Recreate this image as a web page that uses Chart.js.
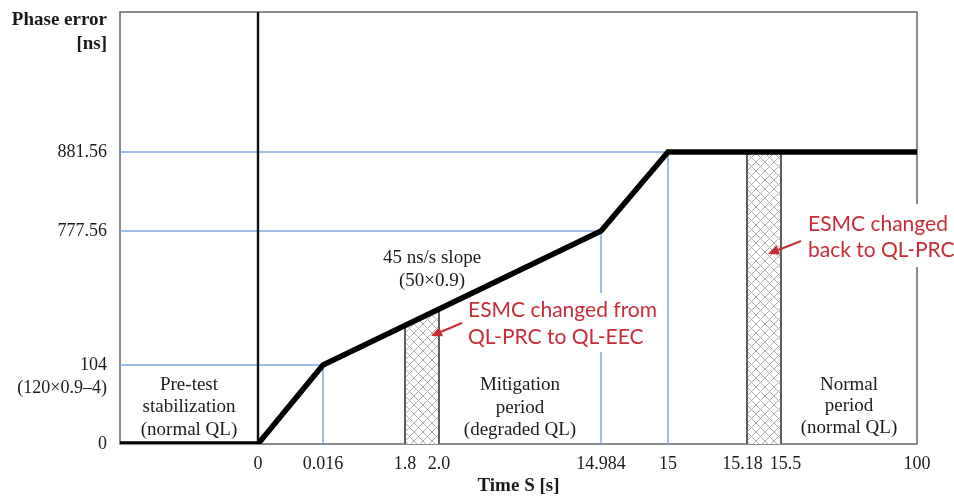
<!DOCTYPE html>
<html><head><meta charset="utf-8">
<script src="https://cdn.jsdelivr.net/npm/chart.js@4/dist/chart.umd.min.js"></script>
<style>html,body{margin:0;padding:0;background:#fff}#wrap{width:954px;height:498px}</style>
</head><body><div id="wrap"><canvas id="c" width="954" height="498"></canvas></div>
<script>
// ---- data ----
const xTickValues = [0, 0.016, 1.8, 2.0, 14.984, 15, 15.18, 15.5, 100];
const xTickLabels = ['0', '0.016', '1.8', '2.0', '14.984', '15', '15.18\u2002', '\u200215.5', '100'];
const yTickValues = [0, 104, 777.56, 881.56];
const yTickLabels = ['0', '104', '777.56', '881.56'];
const preTestStart = -10; // schematic start of pre-test period
const curveTime  = [preTestStart, 0, 0.016, 14.984, 15, 100];
const curvePhase = [0, 0, 104, 777.56, 881.56, 881.56];
const guideTime  = [0.016, 14.984, 15];
const guidePhase = [104, 777.56, 881.56];
const esmcStart    = [1.8, 15.18];
const esmcEnd      = [2.0, 15.5];
const esmcTopStart = [302.6, 881.56];
const esmcTopEnd   = [385, 881.56];

// ---- schematic (non-linear) axis layout ----
const KNOTS = {
  x: { v: [preTestStart, 0, 0.016, 1.8, 2.0, 14.984, 15, 15.18, 15.5, 100],
       f: [0, 138, 203, 285, 319, 481, 548, 627, 661, 797].map(p => p / 797) },
  y: { v: [0, 104, 777.56, 881.56, 1000],
       f: [0, 79, 213, 292, 432].map(p => p / 432) }
};
function interp(a, b, v) {
  if (v <= a[0]) return b[0];
  for (let i = 1; i < a.length; i++) {
    if (v <= a[i]) { const t = (v - a[i-1]) / (a[i] - a[i-1]); return b[i-1] + t * (b[i] - b[i-1]); }
  }
  return b[b.length - 1];
}
class PiecewiseScale extends Chart.LinearScale {
  getPixelForValue(v) {
    if (v === null || v === undefined) return NaN;
    const k = KNOTS[this.id];
    return this.getPixelForDecimal(interp(k.v, k.f, v));
  }
  getValueForPixel(p) {
    const k = KNOTS[this.id];
    return interp(k.f, k.v, this.getDecimalForPixel(p));
  }
}
PiecewiseScale.id = 'piecewise';
PiecewiseScale.defaults = Chart.LinearScale.defaults;
Chart.register(PiecewiseScale);

// ---- hatch pattern ----
const canvas = document.getElementById('c');
const P = 9;
const pc = document.createElement('canvas'); pc.width = P; pc.height = P;
const pg = pc.getContext('2d');
pg.fillStyle = '#fff'; pg.fillRect(0, 0, P, P);
pg.strokeStyle = '#adadad'; pg.lineWidth = 1;
pg.beginPath(); pg.moveTo(-1, -1); pg.lineTo(P + 1, P + 1); pg.moveTo(P + 1, -1); pg.lineTo(-1, P + 1); pg.stroke();
const hatch = canvas.getContext('2d').createPattern(pc, 'repeat');

// ---- datasets (index 0 drawn on top) ----
const datasets = [];
datasets.push({ data: curveTime.map((t, i) => ({x: t, y: curvePhase[i]})),
  borderColor: '#000', borderWidth: 5.5, borderJoinStyle: 'miter', fill: false });
datasets.push({ data: [{x: 0, y: 0}, {x: 0, y: 1000}], borderColor: '#111', borderWidth: 2.4, fill: false });
esmcStart.forEach((s, i) => {
  datasets.push({ data: [{x: s, y: 0}, {x: s, y: esmcTopStart[i]}], borderColor: '#5e5e5e', borderWidth: 2, fill: false });
  datasets.push({ data: [{x: esmcEnd[i], y: 0}, {x: esmcEnd[i], y: esmcTopEnd[i]}], borderColor: '#5e5e5e', borderWidth: 2, fill: false });
});
esmcStart.forEach((s, i) => {
  datasets.push({ data: [{x: s, y: esmcTopStart[i]}, {x: esmcEnd[i], y: esmcTopEnd[i]}],
    borderWidth: 0, borderColor: 'rgba(0,0,0,0)', backgroundColor: hatch, fill: 'origin' });
});
guideTime.forEach((t, i) => {
  datasets.push({ data: [{x: preTestStart, y: guidePhase[i]}, {x: t, y: guidePhase[i]}, {x: t, y: 0}],
    borderColor: '#7eaadf', borderWidth: 1.5, fill: false });
});

const SERIF = '"Liberation Serif", "Times New Roman", serif';
const SANS = 'Lato, "Open Sans", sans-serif';
const RED = '#c62d35';

function arrow(ctx, x1, y1, x2, y2) {
  const a = Math.atan2(y2 - y1, x2 - x1), L = 11, W = 5;
  const bx = x2 - L * Math.cos(a), by = y2 - L * Math.sin(a);
  ctx.strokeStyle = RED; ctx.fillStyle = RED; ctx.lineWidth = 2;
  ctx.beginPath(); ctx.moveTo(x1, y1); ctx.lineTo(bx, by); ctx.stroke();
  ctx.beginPath(); ctx.moveTo(x2, y2);
  ctx.lineTo(bx + W * Math.sin(a), by - W * Math.cos(a));
  ctx.lineTo(bx - W * Math.sin(a), by + W * Math.cos(a));
  ctx.closePath(); ctx.fill();
}

const annot = {
  id: 'annot',
  beforeDatasetsDraw(chart) {
    const {ctx, chartArea: a} = chart;
    ctx.save();
    ctx.strokeStyle = '#666'; ctx.lineWidth = 1.5;
    ctx.strokeRect(a.left, a.top, a.right - a.left, a.bottom - a.top);
    ctx.restore();
  },
  afterDraw(chart) {
    const {ctx, chartArea: a, scales: {x}} = chart;
    ctx.save();
    ctx.fillStyle = '#1a1a1a'; ctx.textBaseline = 'middle';
    // axis titles
    ctx.font = 'bold 19px ' + SERIF; ctx.textAlign = 'right';
    ctx.fillText('Phase error', 107, 20);
    ctx.fillText('[ns]', 107, 44);
    ctx.textAlign = 'center';
    ctx.fillText('Time S [s]', (a.left + a.right) / 2, 486);
    ctx.font = '18px ' + SERIF; ctx.textAlign = 'right';
    ctx.fillText('(120\u00d70.9\u20134)', 107, 388);
    // period labels
    ctx.font = '19px ' + SERIF; ctx.textAlign = 'center';
    const lines = (cx, ys, txt) => txt.forEach((t, i) => ctx.fillText(t, cx, ys[i]));
    lines((a.left + x.getPixelForValue(0)) / 2, [385, 407, 430], ['Pre-test', 'stabilization', '(normal QL)']);
    lines(432, [258, 281], ['45 ns/s slope', '(50\u00d70.9)']);
    lines((x.getPixelForValue(2.0) + x.getPixelForValue(14.984)) / 2, [385, 408, 430], ['Mitigation', 'period', '(degraded QL)']);
    lines((x.getPixelForValue(15.5) + a.right) / 2, [385, 406, 428], ['Normal', 'period', '(normal QL)']);
    // red callouts (white backing boxes, kept clear of the curve)
    ctx.fillStyle = '#fff';
    ctx.fillRect(465, 300, 197, 52);
    ctx.fillRect(484, 293, 178, 8);
    ctx.fillRect(803, 204, 151, 63);
    ctx.fillStyle = RED; ctx.textAlign = 'left'; ctx.textBaseline = 'alphabetic';
    ctx.font = '21px ' + SANS;
    ctx.fillText('ESMC changed from', 468, 317);
    ctx.fillText('QL-PRC to QL-EEC', 468, 344);
    ctx.fillText('ESMC changed', 808, 231);
    ctx.fillText('back to QL-PRC', 808, 257);
    arrow(ctx, 462, 323, 431, 336);
    arrow(ctx, 801, 241, 768, 254);
    ctx.restore();
  }
};

new Chart(canvas, {
  type: 'line',
  data: { datasets },
  options: {
    responsive: false, animation: false,
    layout: { padding: { top: 12, right: 37, left: 0, bottom: 0 } },
    plugins: { legend: { display: false }, tooltip: { enabled: false } },
    elements: { point: { radius: 0, hoverRadius: 0 }, line: { tension: 0 } },
    scales: {
      x: {
        type: 'piecewise', min: preTestStart, max: 100,
        grid: { display: false, drawTicks: false }, border: { display: false },
        afterBuildTicks: s => { s.ticks = xTickValues.map(v => ({value: v})); },
        afterFit: s => { s.height = 54; s.paddingLeft = 0; s.paddingRight = 0; },
        ticks: { autoSkip: false, maxRotation: 0, minRotation: 0, padding: 9, color: '#1a1a1a',
          font: { family: SERIF, size: 18 }, callback: (v, i) => xTickLabels[i] }
      },
      y: {
        type: 'piecewise', min: 0, max: 1000,
        grid: { display: false, drawTicks: false }, border: { display: false },
        afterBuildTicks: s => { s.ticks = yTickValues.map(v => ({value: v})); },
        afterFit: s => { s.width = 120; s.paddingTop = 0; s.paddingBottom = 0; },
        ticks: { autoSkip: false, padding: 13, color: '#1a1a1a',
          font: { family: SERIF, size: 18 }, callback: (v, i) => yTickLabels[i] }
      }
    }
  },
  plugins: [annot]
});
</script></body></html>
